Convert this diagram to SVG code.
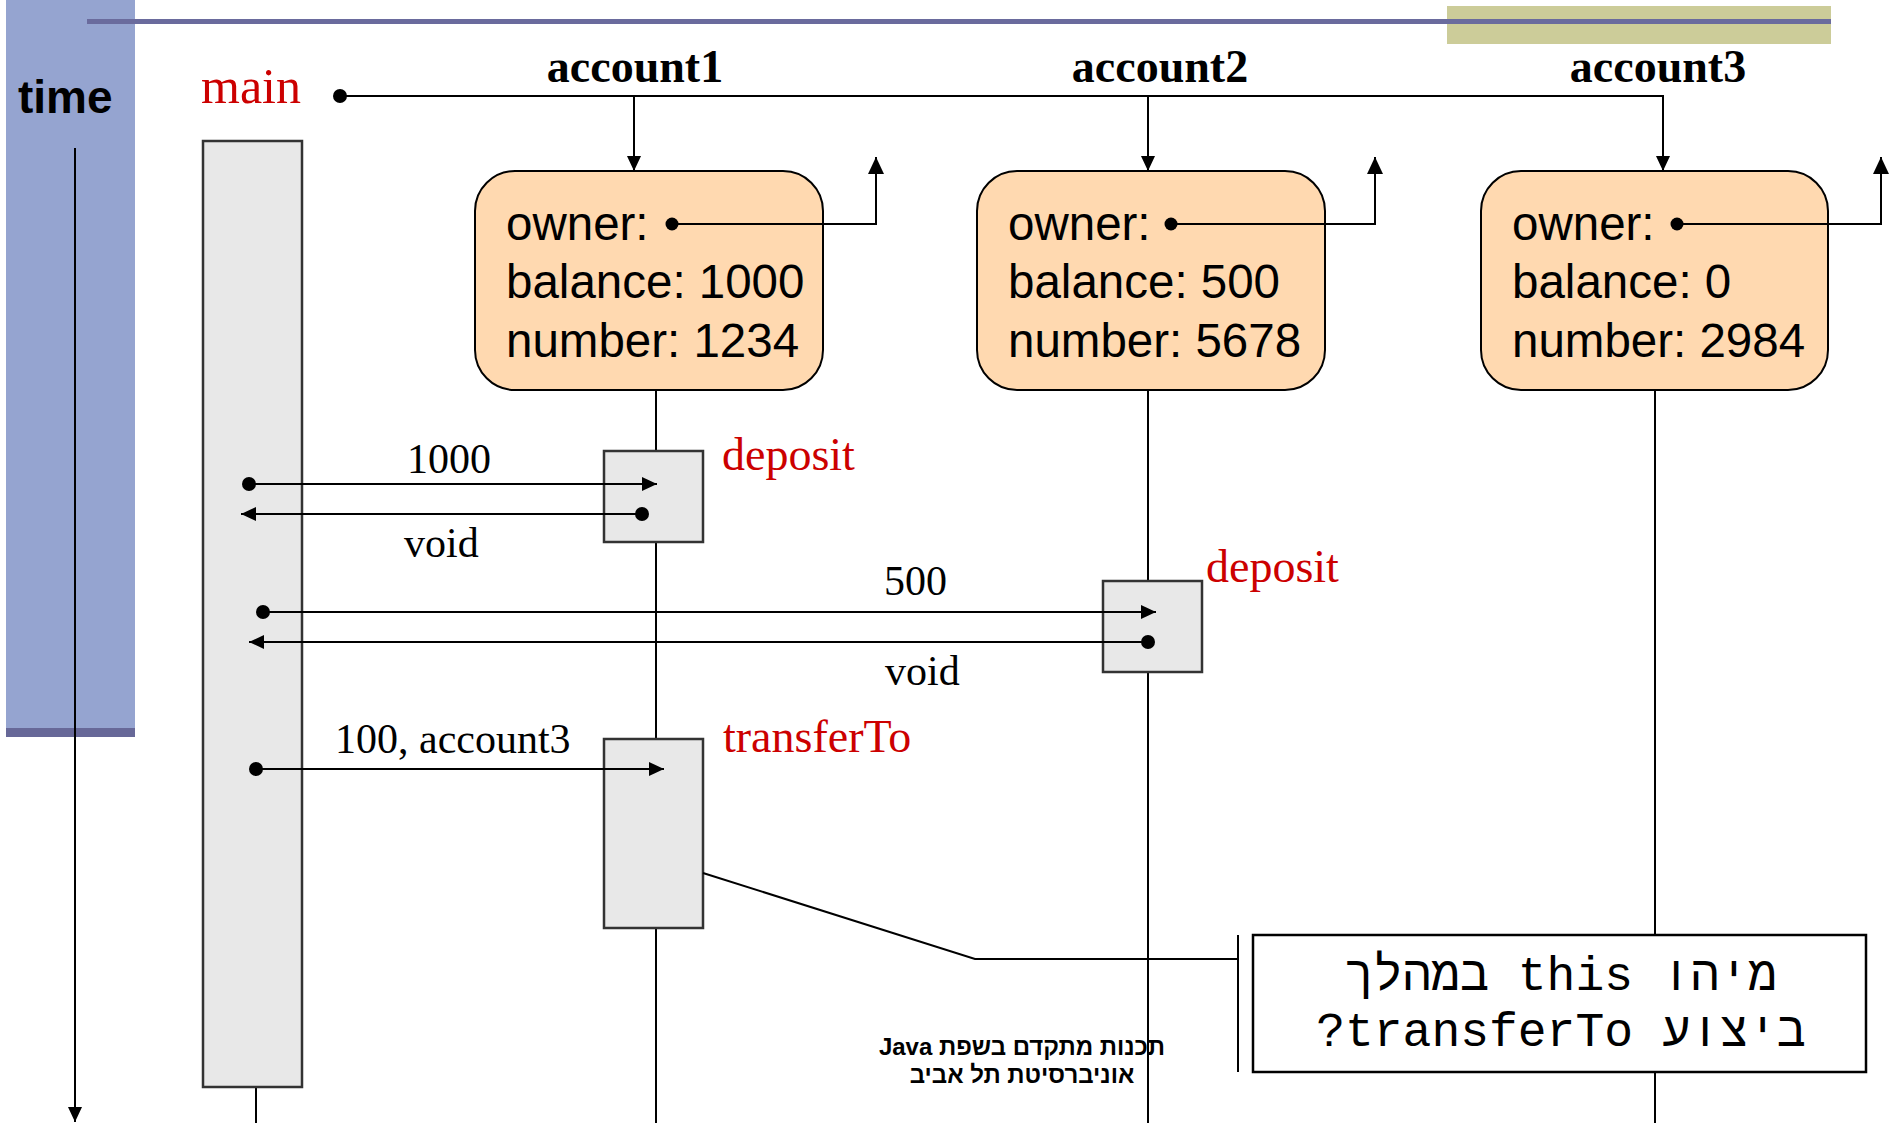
<svg xmlns="http://www.w3.org/2000/svg" width="1892" height="1123" viewBox="0 0 1892 1123">
<style>
.ln{stroke:#000;stroke-width:2;fill:none}
.act{fill:#E8E8E8;stroke:#333;stroke-width:2.5}
.obj{fill:#FFD9B0;stroke:#000;stroke-width:2}
.ftxt{font-family:"Liberation Sans",Arial,sans-serif;font-size:47.5px;fill:#000}
.lbl{font-family:"Liberation Serif","Times New Roman",serif;font-size:42px;fill:#000}
.red{font-family:"Liberation Serif","Times New Roman",serif;font-size:46px;fill:#CC0000}
.acc{font-family:"Liberation Serif","Times New Roman",serif;font-size:46px;font-weight:bold;fill:#000;text-anchor:middle}
.note{font-family:"Liberation Mono","DejaVu Sans Mono",monospace;font-size:48px;fill:#000;text-anchor:middle;unicode-bidi:embed}
.foot{font-family:"Liberation Sans",Arial,sans-serif;font-size:24px;font-weight:bold;fill:#000;text-anchor:middle;unicode-bidi:embed}
.dot{fill:#000}
</style>
<defs>
<marker id="ah" viewBox="0 0 15 14" refX="15" refY="7" markerWidth="15" markerHeight="14" markerUnits="userSpaceOnUse" orient="auto"><path d="M0,0 L15,7 L0,14 z" fill="#000"/></marker>
<marker id="ahb" viewBox="0 0 17 16" refX="17" refY="8" markerWidth="17" markerHeight="16" markerUnits="userSpaceOnUse" orient="auto"><path d="M0,0 L17,8 L0,16 z" fill="#000"/></marker>
</defs>
<rect width="1892" height="1123" fill="#fff"/>
<g id="background">
<rect x="6" y="0" width="129" height="737" fill="#95A4D0"/>
<rect x="6" y="728" width="129" height="9" fill="#676898"/>
<rect x="1447" y="6" width="384" height="38" fill="#CCCC99"/>
<rect x="87" y="19" width="1744" height="5" fill="#6A6B9D"/>
</g>
<g id="time">
<text x="18" y="113" style="font-family:'Liberation Sans',Arial,sans-serif;font-size:46px;font-weight:bold" fill="#000">time</text>
<line x1="75" y1="148" x2="75" y2="1122" class="ln" marker-end="url(#ah)"/>
</g>
<g id="lifelines">
<line x1="656" y1="390" x2="656" y2="1123" class="ln"/>
<line x1="1148" y1="390" x2="1148" y2="1123" class="ln"/>
<line x1="1655" y1="390" x2="1655" y2="1123" class="ln"/>
<line x1="256" y1="1087" x2="256" y2="1123" class="ln"/>
</g>
<g id="main">
<text x="201" y="103" class="red" style="font-size:50px">main</text>
<rect x="203" y="141" width="99" height="946" class="act"/>
</g>
<g id="account1">
<text x="635" y="82" class="acc">account1</text>
<rect x="475" y="171" width="348" height="219" rx="40" ry="40" class="obj"/>
<text x="506" y="240" class="ftxt">owner:</text>
<text x="506" y="298" class="ftxt">balance: 1000</text>
<text x="506" y="357" class="ftxt">number: 1234</text>
</g>
<g id="account2">
<text x="1160" y="82" class="acc">account2</text>
<rect x="977" y="171" width="348" height="219" rx="40" ry="40" class="obj"/>
<text x="1008" y="240" class="ftxt">owner:</text>
<text x="1008" y="298" class="ftxt">balance: 500</text>
<text x="1008" y="357" class="ftxt">number: 5678</text>
</g>
<g id="account3">
<text x="1658" y="82" class="acc">account3</text>
<rect x="1481" y="171" width="347" height="219" rx="40" ry="40" class="obj"/>
<text x="1512" y="240" class="ftxt">owner:</text>
<text x="1512" y="298" class="ftxt">balance: 0</text>
<text x="1512" y="357" class="ftxt">number: 2984</text>
</g>
<g id="deposit1">
<rect x="604" y="451" width="99" height="91" class="act"/>
<text x="722" y="470" class="red">deposit</text>
</g>
<g id="deposit2">
<rect x="1103" y="581" width="99" height="91" class="act"/>
<text x="1206" y="582" class="red">deposit</text>
</g>
<g id="transferTo">
<rect x="604" y="739" width="99" height="189" class="act"/>
<text x="723" y="752" class="red">transferTo</text>
</g>
<g id="note">
<rect x="1253" y="935" width="613" height="137" fill="#fff" stroke="#000" stroke-width="2.5"/>
<text x="1561" y="990" direction="rtl" class="note">מיהו this במהלך</text>
<text x="1561" y="1046" direction="rtl" class="note">ביצוע transferTo?</text>
</g>
<g id="footer">
<text x="1022" y="1055" direction="rtl" class="foot">תכנות מתקדם בשפת Java</text>
<text x="1022" y="1083" direction="rtl" class="foot">אוניברסיטת תל אביב</text>
</g>
<g id="connectors">
<circle cx="340" cy="96" r="7" class="dot"/>
<polyline points="340,96 1663,96 1663,171" class="ln" marker-end="url(#ah)"/>
<line x1="634" y1="96" x2="634" y2="171" class="ln" marker-end="url(#ah)"/>
<line x1="1148" y1="96" x2="1148" y2="171" class="ln" marker-end="url(#ah)"/>
<circle cx="672" cy="224" r="6.5" class="dot"/>
<polyline points="672,224 876,224 876,157" class="ln" marker-end="url(#ahb)"/>
<circle cx="1171" cy="224" r="6.5" class="dot"/>
<polyline points="1171,224 1375,224 1375,157" class="ln" marker-end="url(#ahb)"/>
<circle cx="1677" cy="224" r="6.5" class="dot"/>
<polyline points="1677,224 1881,224 1881,157" class="ln" marker-end="url(#ahb)"/>
<circle cx="249" cy="484" r="7" class="dot"/>
<line x1="249" y1="484" x2="657" y2="484" class="ln" marker-end="url(#ah)"/>
<text x="407" y="473" class="lbl">1000</text>
<circle cx="642" cy="514" r="7" class="dot"/>
<line x1="642" y1="514" x2="241" y2="514" class="ln" marker-end="url(#ah)"/>
<text x="404" y="557" class="lbl">void</text>
<circle cx="263" cy="612" r="7" class="dot"/>
<line x1="263" y1="612" x2="1156" y2="612" class="ln" marker-end="url(#ah)"/>
<text x="884" y="595" class="lbl">500</text>
<circle cx="1148" cy="642" r="7" class="dot"/>
<line x1="1148" y1="642" x2="249" y2="642" class="ln" marker-end="url(#ah)"/>
<text x="885" y="685" class="lbl">void</text>
<circle cx="256" cy="769" r="7" class="dot"/>
<line x1="256" y1="769" x2="664" y2="769" class="ln" marker-end="url(#ah)"/>
<text x="335" y="753" class="lbl">100, account3</text>
<polyline points="703,873 975,959 1238,959" class="ln"/>
<line x1="1238" y1="935" x2="1238" y2="1072" class="ln"/>
</g>
</svg>
